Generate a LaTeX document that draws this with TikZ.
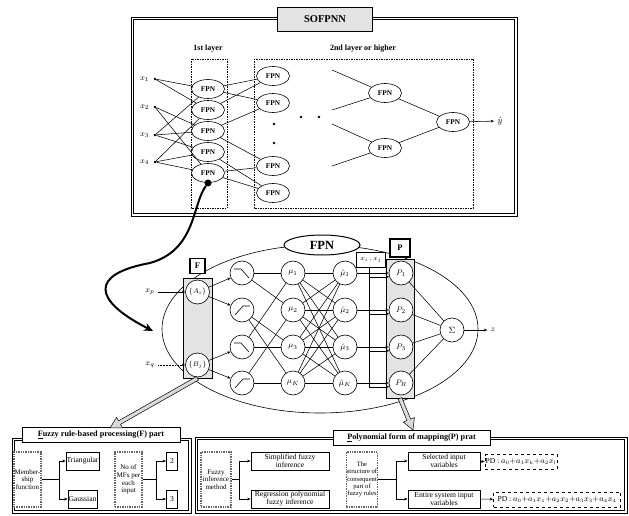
\documentclass[tikz,border=0pt]{standalone}
\usepackage{fontspec}
\setmainfont{Liberation Serif}
\usetikzlibrary{shapes.geometric,arrows.meta,calc}
\newcommand{\fatarrow}[2]{%
  \coordinate (hb) at ($(#2)!11pt!(#1)$);
  \draw[fill=gray!30, line width=0.5pt] ($(#1)!2pt!90:(#2)$) -- ($(hb)!2pt!-90:(#1)$) -- ($(hb)!6pt!-90:(#1)$) -- (#2) -- ($(hb)!6pt!90:(#1)$) -- ($(hb)!2pt!90:(#1)$) -- ($(#1)!2pt!-90:(#2)$) -- cycle;}
\newcommand{\dblframe}[2]{%
  \draw[line width=0.9pt] #1 rectangle #2;
  \draw[line width=0.5pt] ($#1+(2.5,2.5)$) rectangle ($#2+(-2.5,-2.5)$);}
\tikzset{
  wire/.style={line width=0.55pt},
  tip/.style={-{Stealth[length=3.5pt,width=2.8pt]}},
  fpn/.style={ellipse, draw, line width=0.6pt, fill=white, minimum width=33pt, minimum height=19pt, inner sep=0pt, font=\bfseries\fontsize{7.3}{7.3}\selectfont},
  dotn/.style={circle, fill, inner sep=0pt, minimum size=2.6pt},
  cir/.style={circle, draw, line width=0.6pt, fill=white, minimum size=24pt, inner sep=0pt, font=\fontsize{8.5}{8.5}\selectfont},
  lbl/.style={font=\fontsize{8.5}{8.5}\selectfont},
  solidbox/.style={draw, line width=0.8pt, fill=white, inner sep=0.5pt, align=center, font=\fontsize{7.6}{8}\selectfont},
  dotbox/.style={draw=black!60, line width=1.4pt, densely dotted, fill=white, inner sep=0.5pt, align=center, font=\fontsize{7}{7.6}\selectfont},
  titlebox/.style={draw, line width=1pt, fill=white, inner sep=1pt, font=\bfseries\fontsize{8.2}{8.2}\selectfont},
  col/.style={draw, line width=0.6pt, fill=gray!22},
  lblbox/.style={draw, line width=1.3pt, fill=white, inner sep=0pt, font=\bfseries\fontsize{8.5}{8.5}\selectfont},
  pdbox/.style={draw, dashed, line width=0.7pt, fill=white, inner sep=0.5pt, font=\fontsize{7.6}{7.6}\selectfont}
}
\begin{document}
\begin{tikzpicture}[x=1pt,y=-1pt]
\useasboundingbox (0,0) rectangle (629,516);

% ================= SOFPNN =================
\dblframe{(131,17)}{(517,216)}
\node[draw, line width=0.9pt, fill=gray!22, minimum width=95pt, minimum height=24pt, font=\bfseries\fontsize{10.5}{10.5}\selectfont] (sof) at (325,19.5) {SOFPNN};
\node[font=\bfseries\fontsize{8}{8}\selectfont] (l1) at (208,49) {1st layer};
\node[font=\bfseries\fontsize{8}{8}\selectfont] (l2) at (363,49) {2nd layer or higher};
\draw[dash pattern=on 1.5pt off 1pt, line width=0.6pt] (191,59) rectangle (227,208);
\draw[dash pattern=on 1.5pt off 1pt, line width=0.6pt] (254,59) rectangle (473,208);

\node[dotn, label={[lbl, label distance=1pt]left:$x_1$}] (x1) at (155,79) {};
\node[dotn, label={[lbl, label distance=1pt]left:$x_2$}] (x2) at (155,107) {};
\node[dotn, label={[lbl, label distance=1pt]left:$x_3$}] (x3) at (155,135) {};
\node[dotn, label={[lbl, label distance=1pt]left:$x_4$}] (x4) at (155,162) {};

\node[fpn] (f1) at (208,89) {FPN};
\node[fpn] (f2) at (208,110) {FPN};
\node[fpn] (f3) at (208,131) {FPN};
\node[fpn] (f4) at (208,152) {FPN};
\node[fpn] (f5) at (208,173) {FPN};

\node[fpn] (s1) at (273,76) {FPN};
\node[fpn] (s2) at (273,103) {FPN};
\node[fpn] (s3) at (273,166) {FPN};
\node[fpn] (s4) at (273,193) {FPN};
\node[dotn] (d1) at (274,124) {};
\node[dotn] (d2) at (274,143) {};
\node[dotn] (d3) at (301,117) {};
\node[dotn] (d4) at (319,117) {};

\node[fpn] (t1) at (385,93) {FPN};
\node[fpn] (t2) at (385,148) {FPN};
\node[fpn] (u) at (453,122) {FPN};
\node[font=\fontsize{9}{9}\selectfont] (yh) at (500,121) {$\hat{y}$};

\foreach \a/\b in {x1/f1, x3/f1, x1/f2, x4/f2, x2/f3, x3/f3, x3/f4, x4/f4, x2/f5, x4/f5}
  \draw[wire] (\a) -- (\b);
\foreach \a/\b in {f1/s1, f1/s2, f2/s1, f3/s2, f3/s3, f4/s4, f5/s3, f5/s4}
  \draw[wire] (\a) -- (\b);
\coordinate (c1) at (332,70);
\coordinate (c2) at (332,110);
\coordinate (c3) at (332,124);
\coordinate (c4) at (332,166);
\draw[wire] (c1) -- (t1);
\draw[wire] (c2) -- (t1);
\draw[wire] (c3) -- (t2);
\draw[wire] (c4) -- (t2);
\draw[wire] (t1) -- (u);
\draw[wire] (t2) -- (u);
\draw[wire, tip] (u) -- (yh);

% ================= FPN detail =================
\node[ellipse, draw, line width=0.6pt, minimum width=316pt, minimum height=168pt] (big) at (320,329) {};
\node[ellipse, draw, line width=1pt, fill=white, minimum width=76pt, minimum height=20pt, inner sep=0pt, font=\bfseries\fontsize{12.5}{12.5}\selectfont] (fpnl) at (322,245) {FPN};

\node[col, minimum width=29pt, minimum height=100pt] (fcol) at (197.5,328) {};
\node[lblbox, minimum size=15pt] (fbox) at (197.5,266) {F};
\node[cir, font=\fontsize{7}{7}\selectfont] (ai) at (197.5,292) {$\{A_i\}$};
\node[cir, font=\fontsize{7}{7}\selectfont] (bj) at (197.5,365) {$\{B_j\}$};
\node[lbl] (xp) at (150,292) {$x_p$};
\node[lbl] (xq) at (150,365) {$x_q$};
\draw[wire, tip] (xp) -- (ai);
\draw[wire, tip, densely dotted] (xq) -- (bj);

\node[cir] (m1) at (242,273) {};
\node[cir] (m2) at (242,310) {};
\node[cir] (m3) at (242,347) {};
\node[cir] (m4) at (242,383) {};
\foreach \m in {m1,m3}
  \draw[line width=0.6pt] ([shift={(-8,-4)}]\m.center) -- ([shift={(-1,-4)}]\m.center) -- ([shift={(7,5)}]\m.center);
\foreach \m in {m2,m4}
  \draw[line width=0.6pt] ([shift={(-7,5)}]\m.center) -- ([shift={(1,-4)}]\m.center) -- ([shift={(8,-4)}]\m.center);

\node[cir] (mu1) at (293,273) {$\mu_1$};
\node[cir] (mu2) at (293,310) {$\mu_2$};
\node[cir] (mu3) at (293,347) {$\mu_3$};
\node[cir] (mu4) at (293,383) {$\mu_K$};
\node[cir] (h1) at (345,273) {$\hat{\mu}_1$};
\node[cir] (h2) at (345,310) {$\hat{\mu}_2$};
\node[cir] (h3) at (345,347) {$\hat{\mu}_3$};
\node[cir] (h4) at (345,383) {$\hat{\mu}_K$};

\node[col, minimum width=28pt, minimum height=139pt] (pcol) at (400,328.5) {};
\node[lblbox, minimum width=20pt, minimum height=18pt] (pbox) at (400,248) {P};
\node[draw, line width=0.5pt, fill=white, minimum width=29pt, minimum height=15pt, inner sep=0pt, font=\fontsize{7}{7}\selectfont] (xij) at (371,259.5) {$x_i\,,x_j$};
\node[cir] (p1) at (401,273) {$P_1$};
\node[cir] (p2) at (401,310) {$P_2$};
\node[cir] (p3) at (401,347) {$P_3$};
\node[cir] (p4) at (401,383) {$P_R$};
\node[cir, font=\fontsize{9}{9}\selectfont] (sig) at (452,330) {$\Sigma$};
\node[lbl] (z) at (493,330) {$z$};

\draw[wire, tip] (ai) -- (m1);
\draw[wire, tip] (ai) -- (m2);
\draw[wire, tip] (bj) -- (m3);
\draw[wire, tip] (bj) -- (m4);
\foreach \a/\b in {m1/mu1, m1/mu2, m2/mu3, m2/mu4, m3/mu1, m3/mu3, m4/mu2, m4/mu4}
  \draw[wire] (\a) -- (\b);
\foreach \a in {1,...,4}
  \foreach \b in {1,...,4}
    \draw[wire] (mu\a) -- (h\b);
\coordinate (vx) at (369,267);
\foreach \k in {1,...,4} {
  \draw[wire, tip] (h\k) -- (p\k);
  \draw[wire, tip] (vx) |- (p\k.198);
  \draw[wire] (p\k) -- (sig);
}
\draw[wire, tip] (sig) -- (z);

% thick link from SOFPNN to FPN detail
\node[circle, fill, inner sep=0pt, minimum size=7pt] (dot) at (208,183) {};
\coordinate (hook) at (153,331);
\draw[line width=2pt, -{Stealth[length=9pt,width=8pt]}] (dot) .. controls (192,205) and (196,250) .. (150,263) .. controls (90,274) and (92,300) .. (hook);

% ================= bottom boxes =================
\dblframe{(12,438)}{(191,513)}
\dblframe{(195,437)}{(627,513)}
\node[titlebox, minimum width=158pt, minimum height=15pt] (ftitle) at (101,435) {\underline{F}uzzy rule-based processing(F) part};
\node[titlebox, minimum width=157pt, minimum height=15pt] (ptitle) at (411.5,437.5) {\underline{P}olynomial form of mapping(P) prat};

\node[dotbox, minimum width=25pt, minimum height=55pt] (mem) at (27.5,479.5) {Member-\\ship\\function};
\node[solidbox, minimum width=29pt, minimum height=18pt] (tri) at (82.5,461) {Triangular};
\node[solidbox, minimum width=29pt, minimum height=18pt] (gau) at (82.5,499) {Gaussian};
\node[dotbox, minimum width=27pt, minimum height=55pt] (nomf) at (128.5,479.5) {No of\\MFs per\\each\\input};
\node[solidbox, minimum width=11pt, minimum height=18pt] (two) at (172,461) {2};
\node[solidbox, minimum width=11pt, minimum height=18pt] (three) at (172,499) {3};
\draw[wire, tip] (mem.east) -- ++(18,0) |- (tri.west);
\draw[wire, tip] (mem.east) -- ++(18,0) |- (gau.west);
\draw[wire, tip] (nomf.east) -- ++(14,0) |- (two.west);
\draw[wire, tip] (nomf.east) -- ++(14,0) |- (three.west);

\node[dotbox, minimum width=30pt, minimum height=55pt] (fim) at (216,479.5) {Fuzzy\\inference\\method};
\node[solidbox, minimum width=78pt, minimum height=18pt] (simp) at (290,461) {Simplified fuzzy\\inference};
\node[solidbox, minimum width=78pt, minimum height=18pt] (regr) at (290,499) {Regression polynomial\\fuzzy inference};
\node[dotbox, minimum width=31pt, minimum height=55pt, font=\fontsize{6.6}{7.4}\selectfont] (stru) at (362,479.5) {The\\structure of\\consequent\\part of\\fuzzy rules};
\node[solidbox, minimum width=72pt, minimum height=18pt] (sel) at (444,461) {Selected input\\variables};
\node[solidbox, minimum width=72pt, minimum height=18pt] (ent) at (444,499) {Entire system input\\variables};
\node[pdbox, minimum width=58pt, minimum height=15pt] (pd1) at (521,462) {PD : $a_0{+}a_1x_k{+}a_2x_l$};
\node[pdbox, minimum width=127pt, minimum height=15pt] (pd2) at (557,499.5) {PD : $a_0{+}a_1x_1{+}a_2x_2{+}a_3x_3{+}a_4x_4$};
\draw[wire, tip] (fim.east) -- ++(8,0) |- (simp.west);
\draw[wire, tip] (fim.east) -- ++(8,0) |- (regr.west);
\draw[wire, tip] (stru.east) -- ++(18,0) |- (sel.west);
\draw[wire, tip] (stru.east) -- ++(18,0) |- (ent.west);
\draw[wire, tip] (sel) -- (pd1);
\draw[wire, tip] (ent) -- (pd2);

% fat arrows from FPN parts to detail boxes
\coordinate (lt) at (110,428);
\coordinate (rt) at (413,430);
\fatarrow{fcol.south}{lt}
\fatarrow{pcol.south}{rt}
\end{tikzpicture}
\end{document}
